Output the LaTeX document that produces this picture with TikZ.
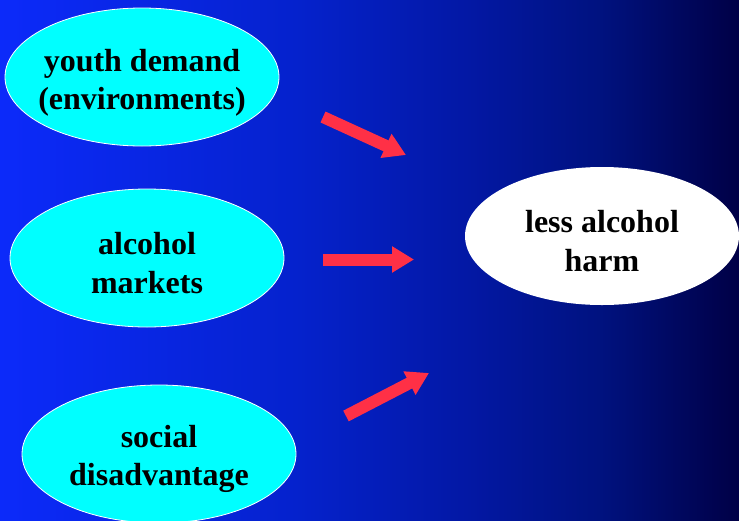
\documentclass[tikz,border=0pt]{standalone}
\usepackage{fontspec}
\setmainfont{Liberation Serif}
\usetikzlibrary{shapes.geometric,arrows.meta}
\definecolor{bgA}{RGB}{12,42,250}
\definecolor{bgB}{RGB}{5,34,205}
\definecolor{bgC}{RGB}{3,24,165}
\definecolor{bgD}{RGB}{0,18,128}
\definecolor{bgE}{RGB}{0,0,70}
\definecolor{cyanfill}{RGB}{0,255,255}
\definecolor{arrowred}{RGB}{255,48,70}
\pgfdeclarehorizontalshading{bgshade}{100bp}{color(0bp)=(bgA); color(25bp)=(bgA); color(45bp)=(bgB); color(56.5bp)=(bgC); color(65.5bp)=(bgD); color(75bp)=(bgE); color(100bp)=(bgE)}
\tikzset{
  causebox/.style={ellipse, fill=cyanfill, draw=white, line width=0.8pt, minimum width=274pt, minimum height=138pt, inner sep=0pt},
  goalbox/.style={ellipse, fill=white, minimum width=274pt, minimum height=138pt, inner sep=0pt},
  boxtext/.style={inner sep=0pt, align=center, font=\fontsize{32}{38.5}\selectfont\bfseries},
  blockarrow/.style={draw=arrowred, line width=12pt, -{Triangle[width=25pt,length=22pt]}, arrowred}
}
\begin{document}
\begin{tikzpicture}[x=1pt,y=-1pt]
\shade[shading=bgshade] (0,0) rectangle (739,520);
\useasboundingbox (0,0) rectangle (739,520);
\node[causebox] (youth) at (142,77) {};
\node[causebox] (markets) at (147,258) {};
\node[causebox] (social) at (159,454) {};
\node[goalbox] (harm) at (602,236) {};
\node[boxtext] (youthtxt) at ([yshift=-6pt]youth.center) {youth demand\\(environments)};
\node[boxtext] (marketstxt) at ([yshift=-5pt]markets.center) {alcohol\\markets};
\node[boxtext] (socialtxt) at ([yshift=-5pt]social.center) {social\\disadvantage};
\node[boxtext] (harmtxt) at ([yshift=-5pt]harm.center) {less alcohol\\harm};
\coordinate (a1s) at (323,117);
\coordinate (a1e) at (406,155);
\coordinate (a2s) at (323,259.5);
\coordinate (a2e) at (414,259.5);
\coordinate (a3s) at (346,416);
\coordinate (a3e) at (429,373);
\draw[blockarrow] (a1s) -- (a1e);
\draw[blockarrow] (a2s) -- (a2e);
\draw[blockarrow] (a3s) -- (a3e);
\end{tikzpicture}
\end{document}
